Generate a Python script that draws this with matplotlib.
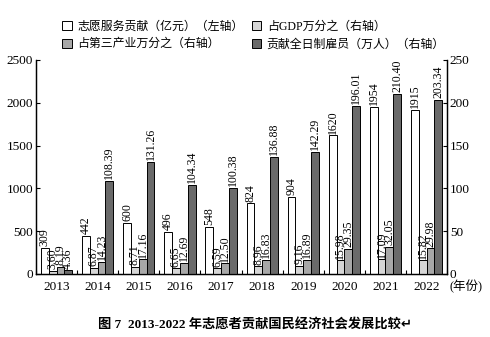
import numpy as np
import matplotlib.pyplot as plt
from matplotlib.patches import Patch

plt.rcParams['font.family'] = ['Liberation Serif', 'Noto Sans CJK SC', 'DejaVu Sans']

years = ['2013', '2014', '2015', '2016', '2017', '2018', '2019', '2020', '2021', '2022']
value = [309, 442, 600, 496, 548, 824, 904, 1620, 1954, 1915]
gdp_share = [3.60, 6.87, 8.71, 6.65, 6.59, 8.96, 9.16, 15.98, 17.09, 15.82]
tertiary_share = [8.19, 14.23, 17.16, 12.69, 12.50, 16.83, 16.89, 29.35, 32.05, 29.98]
fte = [4.36, 108.39, 131.26, 104.34, 100.38, 136.88, 142.29, 196.01, 210.40, 203.34]

labels = ['志愿服务贡献（亿元）（左轴）', '占GDP万分之（右轴）',
          '占第三产业万分之（右轴）', '贡献全日制雇员（万人）（右轴）']
colors = ['white', '#d6d6d6', '#a8a8a8', '#6a6a6a']

fig = plt.figure(figsize=(4.9, 3.37), dpi=100)
ax = fig.add_axes([0.0735, 0.187, 0.839, 0.635])
ax2 = ax.twinx()

x = np.arange(len(years))
w = 0.19
offs = [-1.5 * w, -0.5 * w, 0.5 * w, 1.5 * w]

ax.bar(x + offs[0], value, w, color=colors[0], edgecolor='black', linewidth=0.7)
for s, vals in enumerate([gdp_share, tertiary_share, fte], start=1):
    ax2.bar(x + offs[s], vals, w, color=colors[s], edgecolor='black', linewidth=0.7)

lab_kw = dict(rotation=90, ha='center', va='bottom', fontsize=8.5)
for i in range(len(years)):
    ax.text(x[i] + offs[0], value[i] + 20, f'{value[i]}', **lab_kw)
    ax2.text(x[i] + offs[1], gdp_share[i] + 2, f'{gdp_share[i]:.2f}', **lab_kw)
    ax2.text(x[i] + offs[2], tertiary_share[i] + 2, f'{tertiary_share[i]:.2f}', **lab_kw)
    ax2.text(x[i] + offs[3], fte[i] + 2, f'{fte[i]:.2f}', **lab_kw)

ax.set_xlim(-0.5, len(years) - 0.5)
ax.set_ylim(0, 2500)
ax2.set_ylim(0, 250)
ax.set_yticks(range(0, 2501, 500))
ax2.set_yticks(range(0, 251, 50))

ax.set_xticks(x)
ax.set_xticklabels(years, fontsize=9.5)
ax.set_xticks(np.arange(-0.5, len(years)), minor=True)
ax.tick_params(axis='x', which='major', length=0, pad=5)
ax.tick_params(axis='x', which='minor', direction='in', length=3, width=0.8)
ax.tick_params(axis='y', direction='in', length=3, width=0.8, labelsize=9.5, pad=2)
ax2.tick_params(axis='y', direction='in', length=3, width=0.8, labelsize=9.5, pad=2)

for a in (ax, ax2):
    a.spines['top'].set_visible(False)
    for sp in ('left', 'right', 'bottom'):
        a.spines[sp].set_linewidth(0.9)

ax.text(1.006, -0.058, '(年份)', transform=ax.transAxes, ha='left', va='center', fontsize=9)

# legend fills column by column
order = [0, 2, 1, 3]
handles = [Patch(facecolor=colors[k], edgecolor='black', linewidth=0.7) for k in order]
fig.legend(handles, [labels[k] for k in order], ncol=2, loc='upper left',
           bbox_to_anchor=(0.105, 0.97), frameon=False, fontsize=8.6,
           handlelength=0.8, handleheight=0.8, handletextpad=0.45,
           columnspacing=0.7, labelspacing=0.45)

fig.text(0.2, 0.035, '图 7  2013-2022 年志愿者贡献国民经济社会发展比较↵',
         ha='left', va='center', fontsize=9.5, fontweight='bold',
         family=['Liberation Serif', 'Noto Sans CJK SC', 'DejaVu Sans'])

fig.savefig('out.png', dpi=100)
